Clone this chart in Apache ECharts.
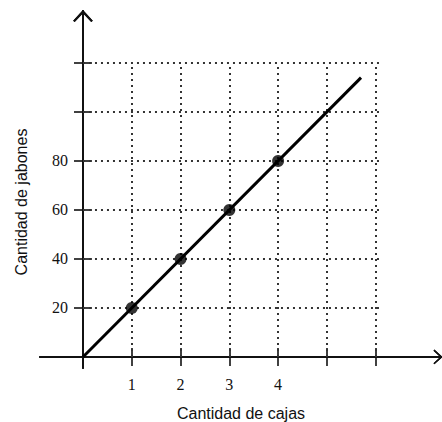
<!DOCTYPE html>
<html>
<head>
<meta charset="utf-8">
<script src="https://cdn.jsdelivr.net/npm/echarts@6/dist/echarts.min.js"></script>
<style>
  html, body { margin: 0; padding: 0; background: #fff; }
  #chart { width: 442px; height: 422px; }
</style>
</head>
<body>
<div id="chart"></div>
<script>
// ---- data ----
const xName = 'Cantidad de cajas';
const yName = 'Cantidad de jabones';
const pointsX = [1, 2, 3, 4];
const pointsY = [20, 40, 60, 80];
const lineX = [0, 5.7];
const lineY = [0, 114];
const xTickValues = [1, 2, 3, 4, 5, 6];
const yTickValues = [20, 40, 60, 80, 100, 120];
const xLabelValues = [1, 2, 3, 4];
const yLabelValues = [20, 40, 60, 80];
const gridXEnd = 6.12;
const gridYEnd = 120;

// ---- build ----
const chevron = 'path://M10,0 L20,11 L18.4,12.2 L10,3.2 L1.6,12.2 L0,11 Z';
const xMin = -0.881, xMax = 7.36, yMin = -4.49, yMax = 141.2;

const gridLines = [];
xTickValues.forEach(v => gridLines.push([{ coord: [v, 0] }, { coord: [v, gridYEnd] }]));
yTickValues.forEach(v => gridLines.push([{ coord: [0, v] }, { coord: [gridXEnd, v] }]));

const axisLineStyle = { color: '#111', width: 2 };
const labelFont = { fontFamily: '"Liberation Serif", "Times New Roman", serif', fontSize: 16, color: '#111' };
const nameFont = { fontFamily: '"Liberation Sans", Arial, sans-serif', fontSize: 16, color: '#111' };

function xAxisDef(inside, withLabels) {
  const def = {
    type: 'value', position: 'bottom', min: xMin, max: xMax,
    axisLine: { show: true, onZero: true, onZeroAxisIndex: 0, lineStyle: axisLineStyle,
      symbol: ['none', chevron], symbolSize: [15, 9], symbolOffset: [0, -4] },
    axisTick: { show: true, inside: inside, length: 9, customValues: xTickValues, lineStyle: { color: '#111', width: 1.6 } },
    axisLabel: { show: withLabels, customValues: xLabelValues, margin: 8, ...labelFont },
    splitLine: { show: false }
  };
  if (withLabels) {
    def.name = xName; def.nameLocation = 'middle'; def.nameGap = 37; def.nameTextStyle = nameFont;
  }
  return def;
}
function yAxisDef(inside, withLabels) {
  return {
    type: 'value', position: 'left', min: yMin, max: yMax,
    axisLine: { show: true, onZero: true, onZeroAxisIndex: 0, lineStyle: axisLineStyle,
      symbol: ['none', chevron], symbolSize: [20, 12], symbolOffset: [0, -5] },
    axisTick: { show: true, inside: inside, length: 9, customValues: yTickValues, lineStyle: { color: '#111', width: 1.6 } },
    axisLabel: { show: withLabels, customValues: yLabelValues, margin: -28, ...labelFont },
    splitLine: { show: false }
  };
}

const chart = echarts.init(document.getElementById('chart'), null, { renderer: 'svg' });
chart.setOption({
  backgroundColor: '#fff',
  animation: false,
  grid: { left: 40, right: 0, top: 11, bottom: 54, containLabel: false, outerBoundsMode: 'none' },
  xAxis: [xAxisDef(false, true), xAxisDef(true, false)],
  yAxis: [yAxisDef(false, true), yAxisDef(true, false)],
  graphic: [{
    type: 'text', x: 21, y: 202, rotation: Math.PI / 2, silent: true,
    style: { text: yName, font: '16px "Liberation Sans", Arial, sans-serif', fill: '#111',
      align: 'center', verticalAlign: 'middle' }
  }],
  series: [
    {
      type: 'line', xAxisIndex: 0, yAxisIndex: 0,
      data: lineX.map((x, i) => [x, lineY[i]]),
      showSymbol: false, silent: true, z: 5,
      lineStyle: { color: '#000', width: 3 },
      markLine: {
        silent: true, symbol: ['none', 'none'], label: { show: false },
        lineStyle: { color: '#333', width: 2, type: [2, 4] },
        data: gridLines, z: 1
      }
    },
    {
      type: 'scatter', xAxisIndex: 0, yAxisIndex: 0,
      data: pointsX.map((x, i) => [x, pointsY[i]]),
      symbol: 'circle', symbolSize: 12, z: 6,
      itemStyle: { color: '#000' }
    }
  ]
});
</script>
</body>
</html>
